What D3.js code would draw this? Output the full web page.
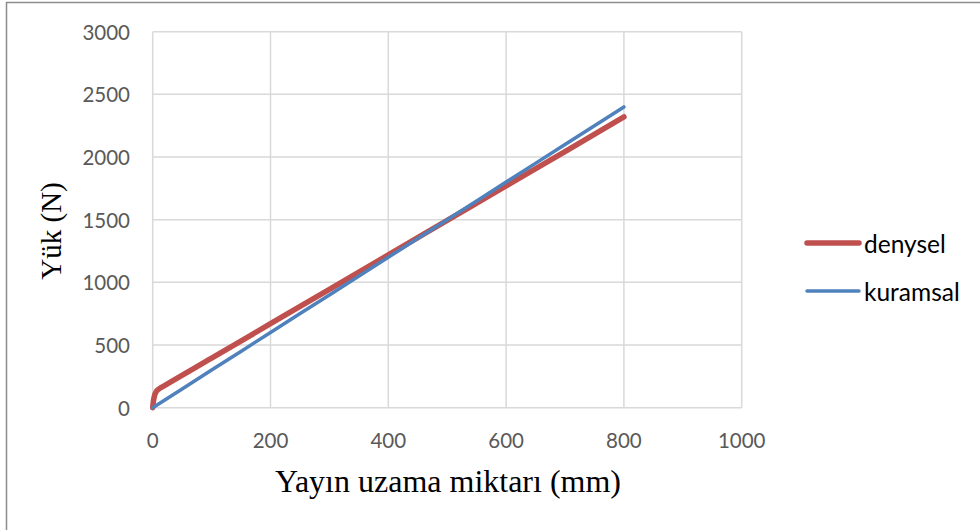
<!DOCTYPE html>
<html lang="tr">
<head>
<meta charset="UTF-8">
<title>Yük - uzama</title>
<script src="https://d3js.org/d3.v7.min.js"></script>
<style>
  body { margin: 0; background: #fff; }
  .grid line { stroke: #d9d9d9; stroke-width: 1.5; }
  .tick-label { font-family: Lato, "Open Sans", sans-serif; font-size: 20.5px; fill: #595959; }
  .axis-title { font-family: "Liberation Serif", "Times New Roman", serif; fill: #000; }
  .legend text { font-family: Lato, "Open Sans", sans-serif; font-size: 24.5px; fill: #000; }
</style>
</head>
<body>
<svg id="chart" width="980" height="530"></svg>
<script>
// deneysel ölçüm (kırmızı)
var denyselX = [0, 1, 3, 6, 10, 20, 100, 200, 300, 400, 500, 600, 700, 800];
var denyselY = [0, 45, 95, 128, 148, 176, 395, 670, 945, 1219, 1494, 1769, 2043, 2320];
// kuramsal (mavi)
var kuramsalX = [0, 100, 200, 300, 400, 500, 600, 700, 800];
var kuramsalY = [0, 300, 600, 900, 1200, 1500, 1800, 2100, 2400];

var xTicks = [0, 200, 400, 600, 800, 1000];
var yTicks = [0, 500, 1000, 1500, 2000, 2500, 3000];

var svg = d3.select("#chart");

// dış çerçeve
svg.append("rect")
    .attr("x", 6.5).attr("y", 2.5)
    .attr("width", 1000).attr("height", 600)
    .attr("fill", "none").attr("stroke", "#8c8c8c").attr("stroke-width", 1.5);

var x = d3.scaleLinear().domain([0, 1000]).range([152.7, 741.7]);
var y = d3.scaleLinear().domain([0, 3000]).range([407.7, 31.7]);

// ızgara
var grid = svg.append("g").attr("class", "grid");
grid.selectAll(".hl").data(yTicks).enter().append("line")
    .attr("x1", x(0)).attr("x2", x(1000))
    .attr("y1", d => y(d)).attr("y2", d => y(d));
grid.selectAll(".vl").data(xTicks).enter().append("line")
    .attr("x1", d => x(d)).attr("x2", d => x(d))
    .attr("y1", y(0)).attr("y2", y(3000));

// eksen etiketleri
svg.selectAll(".ylab").data(yTicks).enter().append("text")
    .attr("class", "tick-label")
    .attr("x", 130)
    .attr("y", d => y(d))
    .attr("text-anchor", "end")
    .attr("dominant-baseline", "central")
    .text(d => d);

svg.selectAll(".xlab").data(xTicks).enter().append("text")
    .attr("class", "tick-label")
    .attr("x", d => x(d))
    .attr("y", 448)
    .attr("text-anchor", "middle")
    .text(d => d);

// başlıklar
svg.append("text").attr("class", "axis-title")
    .attr("x", 448).attr("y", 492)
    .attr("text-anchor", "middle")
    .style("font-size", "32px")
    .text("Yayın uzama miktarı (mm)");

svg.append("text").attr("class", "axis-title")
    .attr("transform", "translate(61,231) rotate(-90)")
    .attr("text-anchor", "middle")
    .style("font-size", "29px")
    .text("Yük (N)");

// çizgiler
var line = d3.line().x(d => x(d[0])).y(d => y(d[1])).curve(d3.curveMonotoneX);

svg.append("path")
    .datum(d3.zip(denyselX, denyselY))
    .attr("d", line)
    .attr("fill", "none")
    .attr("stroke", "#c0504d")
    .attr("stroke-width", 5.5)
    .attr("stroke-linecap", "round")
    .attr("stroke-linejoin", "round");

svg.append("path")
    .datum(d3.zip(kuramsalX, kuramsalY))
    .attr("d", line)
    .attr("fill", "none")
    .attr("stroke", "#4f81bd")
    .attr("stroke-width", 3.5)
    .attr("stroke-linecap", "round");

// lejant
var legend = svg.append("g").attr("class", "legend");
var items = [
    { name: "denysel", color: "#c0504d", w: 5.5, y: 243 },
    { name: "kuramsal", color: "#4f81bd", w: 3.5, y: 291 }
];
items.forEach(function (it) {
    legend.append("line")
        .attr("x1", 807).attr("x2", 859)
        .attr("y1", it.y).attr("y2", it.y)
        .attr("stroke", it.color)
        .attr("stroke-width", it.w)
        .attr("stroke-linecap", "round");
    legend.append("text")
        .attr("x", 864).attr("y", it.y)
        .attr("dominant-baseline", "central")
        .text(it.name);
});
</script>
</body>
</html>
